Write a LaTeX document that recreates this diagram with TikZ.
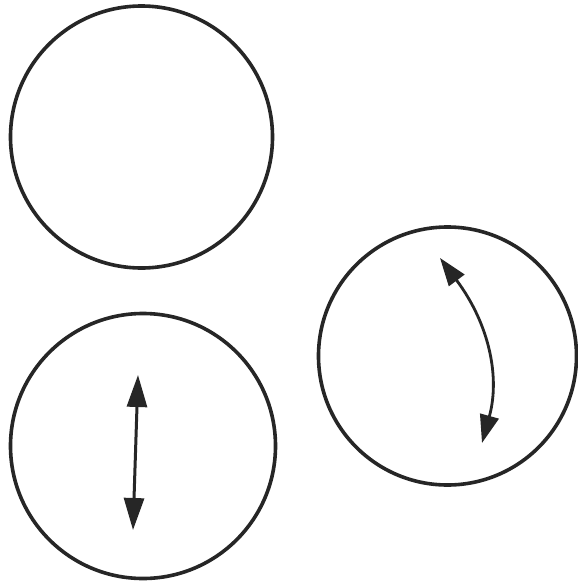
\documentclass[tikz,border=0pt]{standalone}
\usetikzlibrary{arrows.meta}
\begin{document}
\begin{tikzpicture}[x=1pt,y=-1pt,
  ring/.style={circle,draw=black!85,line width=3.6pt,inner sep=0pt,minimum size=262pt},
  dblarrow/.style={draw=black!85,line width=3pt,{Triangle[length=32pt,width=20pt]}-{Triangle[length=32pt,width=20pt]}},
  curvearrow/.style={draw=black!85,line width=2.8pt,{Triangle[length=28pt,width=19pt]}-{Triangle[length=28pt,width=19pt]}}]
\useasboundingbox[fill=white] (0,0) rectangle (578,582);
\node[ring] (c1) at (141.5,137) {};
\node[ring,minimum size=265pt] (c2) at (143,446) {};
\node[ring,minimum size=258pt] (c3) at (447.5,356) {};
\coordinate (a1) at (138,375);
\coordinate (a2) at (133,530);
\coordinate (b1) at (440,258);
\coordinate (b2) at (482,443);
\draw[dblarrow] (a1) -- (a2);
\draw[curvearrow] (b1) .. controls (490,325) and (500,378) .. (b2);
\end{tikzpicture}
\end{document}
